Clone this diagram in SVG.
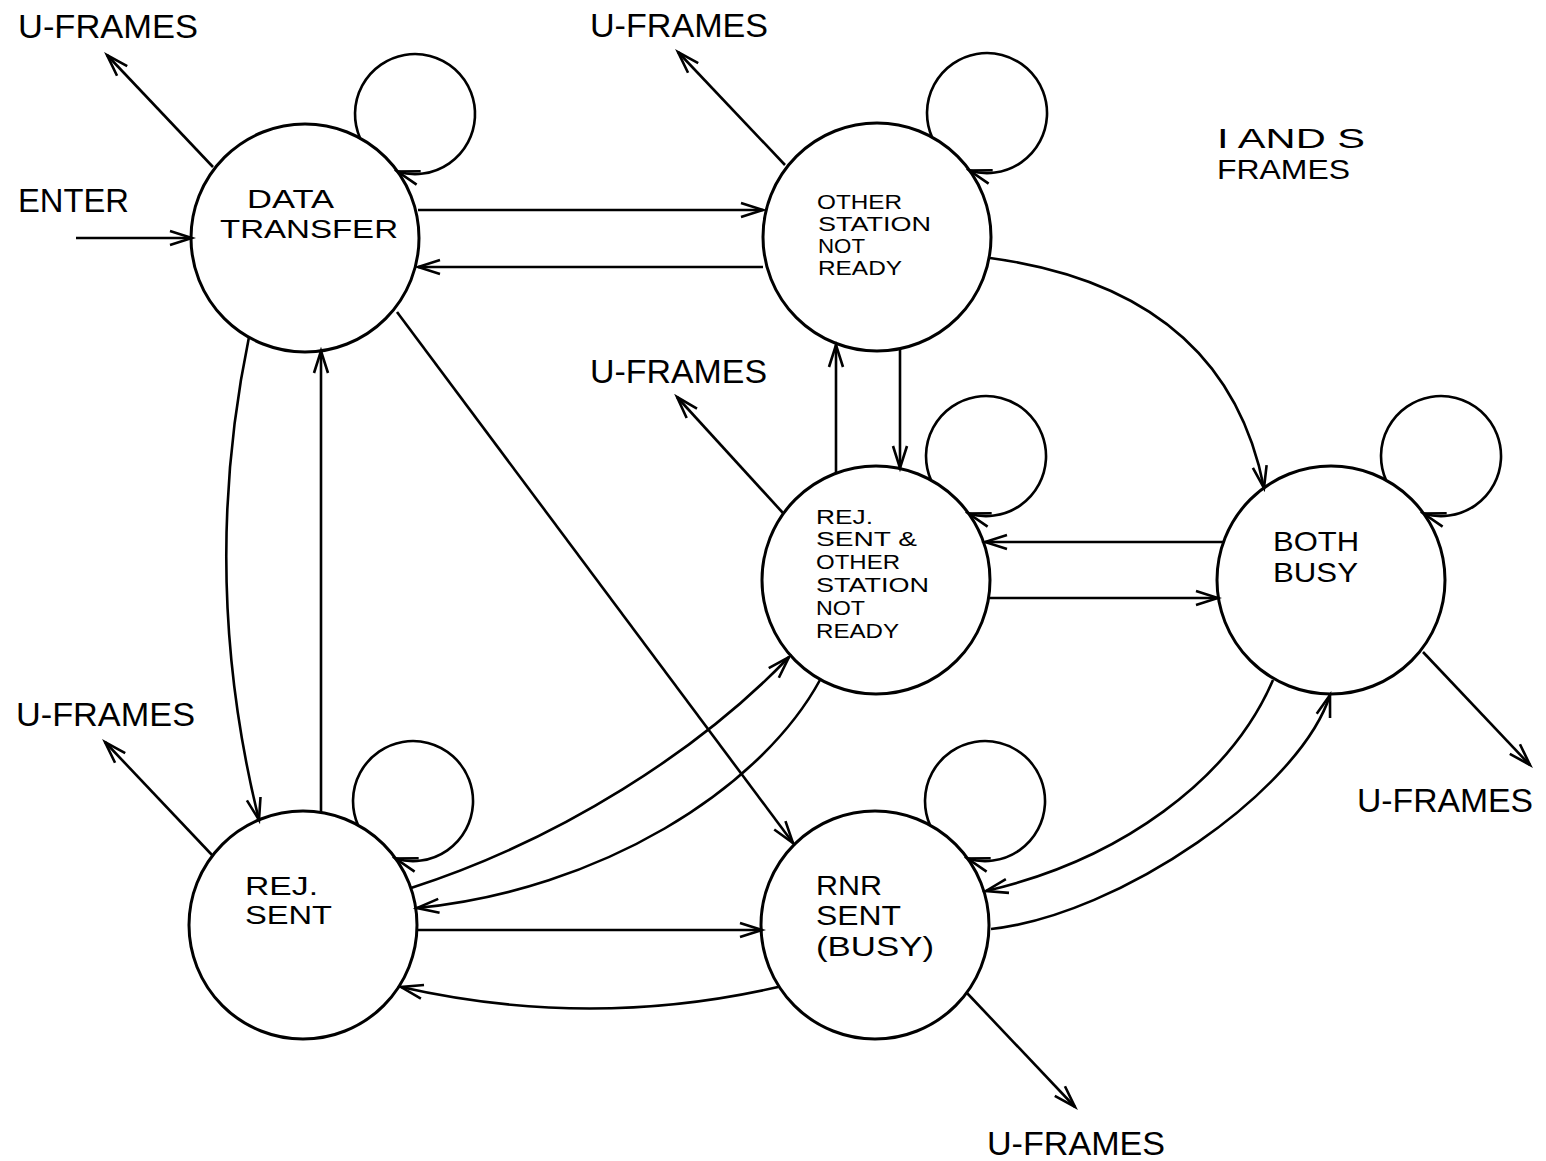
<svg xmlns="http://www.w3.org/2000/svg" width="1546" height="1161" viewBox="0 0 1546 1161">
<style>
.node circle{fill:none;stroke:#000;stroke-width:3}
.edge{fill:none;stroke:#000;stroke-width:2.6;marker-end:url(#arr)}
text{font-family:"Liberation Sans",Arial,sans-serif;fill:#000}
.big{font-size:34px}
.small{font-size:19.5px}
</style>
<defs>
<marker id="arr" markerUnits="userSpaceOnUse" markerWidth="30" markerHeight="20" viewBox="-26 -10 30 20" refX="0" refY="0" orient="auto">
<path d="M-22,-7 L0,0 L-22,7" fill="none" stroke="#000" stroke-width="2.6"/>
</marker>
</defs>
<rect width="1546" height="1161" fill="#fff"/>

<g id="connectors">
<path class="edge" d="M76,238 L192,238"/>
<path class="edge" d="M418,210 L763,210"/>
<path class="edge" d="M763,267 L418,267"/>
<path class="edge" d="M397,312 L793,843"/>
<path class="edge" d="M249,337 Q199,578 259,820"/>
<path class="edge" d="M321,812 L321,351"/>
<path class="edge" d="M900,349 L900,468"/>
<path class="edge" d="M836,473 L836,345"/>
<path class="edge" d="M990,258 Q1225,290 1264,488"/>
<path class="edge" d="M1224,542 L985,542"/>
<path class="edge" d="M989,598 L1218,598"/>
<path class="edge" d="M1273,680 C1230,780 1120,860 986,891"/>
<path class="edge" d="M991,929 C1120,915 1300,790 1330,695"/>
<path class="edge" d="M820,680 C760,790 600,890 417,908"/>
<path class="edge" d="M411,888 C560,840 700,750 789,657"/>
<path class="edge" d="M418,930 L762,930"/>
<path class="edge" d="M778,987 Q590,1030 401,987"/>
<path class="edge" d="M213,167 L107,55"/>
<path class="edge" d="M785,165 L678,52"/>
<path class="edge" d="M783,513 L677,397"/>
<path class="edge" d="M212,855 L105,742"/>
<path class="edge" d="M1423,652 L1530,765"/>
<path class="edge" d="M967,993 L1075,1107"/>
<path class="edge" d="M360,138 A60,60 0 1 1 397.6,171.5"/>
<path class="edge" d="M932,137 A60,60 0 1 1 969.6,170.5"/>
<path class="edge" d="M931,480 A60,60 0 1 1 968.6,513.5"/>
<path class="edge" d="M1386,480 A60,60 0 1 1 1423.6,513.5"/>
<path class="edge" d="M358,825 A60,60 0 1 1 395.6,858.5"/>
<path class="edge" d="M930,825 A60,60 0 1 1 967.6,858.5"/>
</g>

<g id="node-data-transfer" class="node">
<circle cx="305" cy="238" r="114"/>
<text style="font-size:26.5px"><tspan x="247" y="208" textLength="87" lengthAdjust="spacingAndGlyphs">DATA</tspan><tspan x="220" y="238" textLength="178" lengthAdjust="spacingAndGlyphs">TRANSFER</tspan></text>
</g>
<g id="node-other-station-not-ready" class="node">
<circle cx="877" cy="237" r="114"/>
<text class="small"><tspan x="817" y="208.5" textLength="85" lengthAdjust="spacingAndGlyphs">OTHER</tspan><tspan x="818" y="230.8" textLength="113" lengthAdjust="spacingAndGlyphs">STATION</tspan><tspan x="818" y="253.1" textLength="47" lengthAdjust="spacingAndGlyphs">NOT</tspan><tspan x="818" y="275.4" textLength="84" lengthAdjust="spacingAndGlyphs">READY</tspan></text>
</g>
<g id="node-rej-sent-other" class="node">
<circle cx="876" cy="580" r="114"/>
<text style="font-size:20px"><tspan x="816" y="523.5" textLength="57" lengthAdjust="spacingAndGlyphs">REJ.</tspan><tspan x="816" y="546.3" textLength="101" lengthAdjust="spacingAndGlyphs">SENT &amp;</tspan><tspan x="816" y="569.1" textLength="84" lengthAdjust="spacingAndGlyphs">OTHER</tspan><tspan x="816" y="591.9" textLength="113" lengthAdjust="spacingAndGlyphs">STATION</tspan><tspan x="816" y="614.7" textLength="49" lengthAdjust="spacingAndGlyphs">NOT</tspan><tspan x="816" y="637.5" textLength="83" lengthAdjust="spacingAndGlyphs">READY</tspan></text>
</g>
<g id="node-both-busy" class="node">
<circle cx="1331" cy="580" r="114"/>
<text style="font-size:27.5px"><tspan x="1273" y="551.4" textLength="86" lengthAdjust="spacingAndGlyphs">BOTH</tspan><tspan x="1273" y="582.4" textLength="85" lengthAdjust="spacingAndGlyphs">BUSY</tspan></text>
</g>
<g id="node-rej-sent" class="node">
<circle cx="303" cy="925" r="114"/>
<text style="font-size:25.7px"><tspan x="245" y="894.7" textLength="73" lengthAdjust="spacingAndGlyphs">REJ.</tspan><tspan x="245" y="923.7" textLength="87" lengthAdjust="spacingAndGlyphs">SENT</tspan></text>
</g>
<g id="node-rnr-sent" class="node">
<circle cx="875" cy="925" r="114"/>
<text style="font-size:27px"><tspan x="816" y="894.6" textLength="66" lengthAdjust="spacingAndGlyphs">RNR</tspan><tspan x="816" y="925.1" textLength="85" lengthAdjust="spacingAndGlyphs">SENT</tspan><tspan x="816" y="955.6" textLength="118" lengthAdjust="spacingAndGlyphs">(BUSY)</tspan></text>
</g>

<g id="labels">
<text class="big" x="18" y="38" textLength="180" lengthAdjust="spacingAndGlyphs">U-FRAMES</text>
<text class="big" x="590" y="37" textLength="178" lengthAdjust="spacingAndGlyphs">U-FRAMES</text>
<text class="big" x="18" y="212" textLength="111" lengthAdjust="spacingAndGlyphs">ENTER</text>
<text style="font-size:27.5px"><tspan x="1217" y="148.4" textLength="148" lengthAdjust="spacingAndGlyphs">I AND S</tspan><tspan x="1217" y="179.4" textLength="133" lengthAdjust="spacingAndGlyphs">FRAMES</tspan></text>
<text class="big" x="590" y="383" textLength="177" lengthAdjust="spacingAndGlyphs">U-FRAMES</text>
<text class="big" x="16" y="726" textLength="179" lengthAdjust="spacingAndGlyphs">U-FRAMES</text>
<text class="big" x="1357" y="812" textLength="176" lengthAdjust="spacingAndGlyphs">U-FRAMES</text>
<text class="big" x="987" y="1155" textLength="178" lengthAdjust="spacingAndGlyphs">U-FRAMES</text>
</g>
</svg>
